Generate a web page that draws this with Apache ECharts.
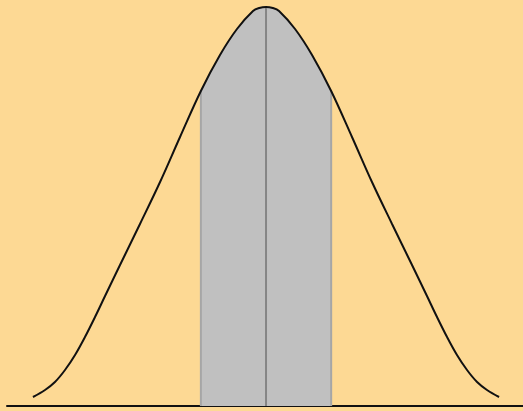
<!DOCTYPE html>
<html>
<head>
<meta charset="utf-8">
<script src="https://cdn.jsdelivr.net/npm/echarts@6/dist/echarts.min.js"></script>
<style>
  html, body { margin: 0; padding: 0; background: #fdd994; }
  #curveChart { width: 523px; height: 411px; }
</style>
</head>
<body>
<div id="curveChart"></div>
<script>
// curve points, x in sigma units, y as density
const curveX = [-2.415, -2.290, -2.187, -2.083, -1.979, -1.876, -1.772, -1.668, -1.513, -1.306, -1.098, -0.891,
                -0.675, -0.477, -0.301, -0.135, -0.07, 0,
                0.07, 0.135, 0.301, 0.477, 0.675,
                0.891, 1.098, 1.306, 1.513, 1.668, 1.772, 1.876, 1.979, 2.083, 2.187, 2.290, 2.415]
const curveY = [0.009, 0.016, 0.024, 0.036, 0.051, 0.069, 0.089, 0.110, 0.141, 0.182, 0.224, 0.269,
                0.315, 0.351, 0.377, 0.395, 0.398, 0.399,
                0.398, 0.395, 0.377, 0.351, 0.315,
                0.269, 0.224, 0.182, 0.141, 0.110, 0.089, 0.069, 0.051, 0.036, 0.024, 0.016, 0.009]
// shaded band limits (interquartile range)
const bandLow = -0.675
const bandHigh = 0.675

let curveData = []
let bandData = []
for (let i = 0; i < curveX.length; i++) {
  curveData.push([curveX[i], curveY[i]])
  if (curveX[i] >= bandLow && curveX[i] <= bandHigh) {
    bandData.push([curveX[i], curveY[i]])
  }
}
const bandTop = curveY[curveX.indexOf(bandLow)]
const peak = curveY[curveX.indexOf(0)]

let myChart = echarts.init(document.getElementById('curveChart'))
myChart.setOption({
  backgroundColor: '#fdd994',
  animation: false,
  grid: {
    left: 7,
    right: 0,
    top: 6,
    bottom: 5
  },
  xAxis: {
    type: 'value',
    min: -2.684,
    max: 2.663,
    axisLine: { show: true, onZero: false, lineStyle: { color: '#111', width: 2 } },
    axisTick: { show: false },
    axisLabel: { show: false },
    splitLine: { show: false }
  },
  yAxis: {
    type: 'value',
    min: 0,
    max: 0.4,
    show: false
  },
  series: [
    {
      // grey band under the curve
      type: 'line',
      data: bandData,
      smooth: 0.35,
      symbol: 'none',
      lineStyle: { width: 0 },
      areaStyle: { color: '#c0c0c0', opacity: 1 },
      z: 1
    },
    {
      type: 'line',
      data: [[bandLow, 0], [bandLow, bandTop]],
      symbol: 'none',
      lineStyle: { color: '#a6a6a6', width: 2 },
      z: 2
    },
    {
      type: 'line',
      data: [[bandHigh, 0], [bandHigh, bandTop]],
      symbol: 'none',
      lineStyle: { color: '#a6a6a6', width: 2 },
      z: 2
    },
    {
      type: 'line',
      data: [[0, 0], [0, peak]],
      symbol: 'none',
      lineStyle: { color: '#858585', width: 2 },
      z: 2
    },
    {
      type: 'line',
      data: curveData,
      smooth: 0.35,
      symbol: 'none',
      clip: false,
      lineStyle: { color: '#111', width: 2 },
      z: 3
    }
  ]
})
</script>
</body>
</html>
